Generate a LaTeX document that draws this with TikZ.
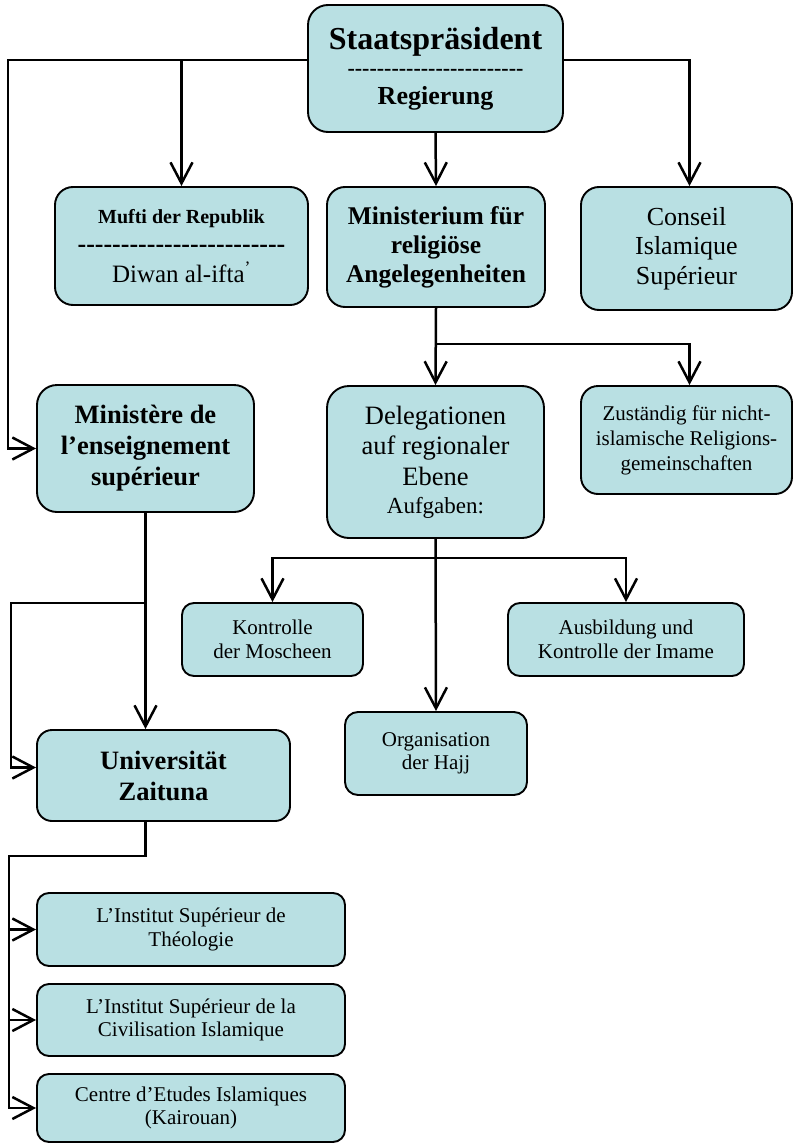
\documentclass[tikz,border=0pt]{standalone}
\usepackage{fontspec}
\setmainfont{Liberation Serif}
\newfontfamily\dashfont{Liberation Serif}
\usetikzlibrary{arrows.meta}
\definecolor{boxfill}{RGB}{185,224,227}
\begin{document}
\begin{tikzpicture}[x=1pt,y=-1pt,
  box/.style={draw=black, line width=1.9pt, fill=boxfill, align=center, inner sep=0pt, rounded corners=14pt},
  conn/.style={draw=black, line width=2.5pt},
  arr/.style={conn, -{Straight Barb[length=21pt,width=22pt]}}]
\fill[white] (0,0) rectangle (794,1145);
\useasboundingbox (0,0) rectangle (794,1145);

% boxes
\node[box, rounded corners=20pt, minimum width=255pt, minimum height=127pt,
      font=\bfseries\fontsize{26}{29}\selectfont] (staat) at (435.5,68.5)
  {{\fontsize{32}{32}\selectfont Staatspräsident}\\[-3pt]
   {\dashfont\bfseries\fontsize{22}{22}\selectfont ------------------------}\\
   Regierung};
\node[box, rounded corners=18pt, minimum width=253pt, minimum height=118pt,
      font=\fontsize{25}{29.5}\selectfont] (mufti) at (181.5,246)
  {{\bfseries\fontsize{20}{20}\selectfont Mufti der Republik}\\
   {\dashfont\bfseries\fontsize{26}{26}\selectfont ------------------------}\\
   Diwan al-ifta\textsuperscript{’}};
\node[box, rounded corners=18pt, minimum width=218pt, minimum height=120pt,
      font=\bfseries\fontsize{25.5}{29}\selectfont] (minrel) at (436,247)
  {Ministerium für\\religiöse\\Angelegenheiten};
\node[box, rounded corners=18pt, minimum width=211pt, minimum height=123pt,
      font=\fontsize{26}{29.5}\selectfont] (conseil) at (686.5,248.5)
  {Conseil\\Islamique\\Supérieur};
\node[box, rounded corners=20pt, minimum width=217pt, minimum height=127pt,
      font=\bfseries\fontsize{26.5}{31}\selectfont] (minens) at (145.5,448.5)
  {Ministère de\\l’enseignement\\supérieur};
\node[box, rounded corners=22pt, minimum width=217pt, minimum height=152pt,
      font=\fontsize{26.5}{30.5}\selectfont] (deleg) at (435.5,462)
  {Delegationen\\auf regionaler\\Ebene\\[-2.5pt]{\fontsize{23}{23}\selectfont Aufgaben:}};
\node[box, rounded corners=17pt, minimum width=211pt, minimum height=108pt,
      font=\fontsize{21}{25}\selectfont] (zust) at (686.5,440)
  {Zuständig für nicht-\\islamische Religions-\\gemeinschaften};
\node[box, rounded corners=12pt, minimum width=181pt, minimum height=73pt,
      font=\fontsize{21}{23.5}\selectfont] (kontr) at (272.5,639.5)
  {Kontrolle\\der Moscheen};
\node[box, rounded corners=12pt, minimum width=236pt, minimum height=73pt,
      font=\fontsize{21}{23.5}\selectfont] (ausb) at (626,639.5)
  {Ausbildung und\\Kontrolle der Imame};
\node[box, rounded corners=13pt, minimum width=182pt, minimum height=83pt,
      font=\fontsize{21}{23.5}\selectfont] (hajj) at (436,753.5)
  {Organisation\\der Hajj};
\node[box, rounded corners=15pt, minimum width=253pt, minimum height=91pt,
      font=\bfseries\fontsize{26.5}{31}\selectfont] (uni) at (163.5,775.5)
  {Universität\\Zaituna};
\node[box, rounded corners=12pt, minimum width=308pt, minimum height=73pt,
      font=\fontsize{21}{23.5}\selectfont] (inst1) at (191,929.5)
  {L’Institut Supérieur de\\Théologie};
\node[box, rounded corners=12pt, minimum width=308pt, minimum height=72pt,
      font=\fontsize{21}{23.5}\selectfont] (inst2) at (191,1020)
  {L’Institut Supérieur de la\\Civilisation Islamique};
\node[box, rounded corners=12pt, minimum width=308pt, minimum height=68pt,
      font=\fontsize{21}{23.5}\selectfont] (centre) at (191,1108)
  {Centre d’Etudes Islamiques\\(Kairouan)};

% junction coordinates
\coordinate (jL) at (8,60);
\coordinate (jR) at (436,344);
\coordinate (jD) at (436,558);
\coordinate (jM) at (145.5,603);
\coordinate (jM2) at (11,603);
\coordinate (jU) at (145.5,856);
\coordinate (jU2) at (9,856);

% connectors
\draw[arr] ([yshift=8.5pt]staat.west) -- (jL) |- (minens.west);
\draw[arr] (mufti.north |- jL) -- (mufti.north);
\draw[arr] ([yshift=8.5pt]staat.east) -| ([xshift=3pt]conseil.north);
\draw[arr] (staat.south) -- (minrel.north);
\draw[arr] (minrel.south) -- (deleg.north);
\draw[arr] (jR) -| ([xshift=3pt]zust.north);
\draw[arr] (deleg.south) -- (hajj.north);
\draw[arr] (jD) -| (kontr.north);
\draw[arr] (jD) -| (ausb.north);
\draw[arr] (minens.south) -- (minens.south |- uni.north);
\draw[arr] (jM) -- (jM2) |- ([yshift=8pt]uni.west);
\draw[arr] (minens.south |- uni.south) -- (jU) -- (jU2) |- (centre.west);
\draw[arr] (jU2 |- inst1.west) -- (inst1.west);
\draw[arr] (jU2 |- inst2.west) -- (inst2.west);
\end{tikzpicture}
\end{document}
